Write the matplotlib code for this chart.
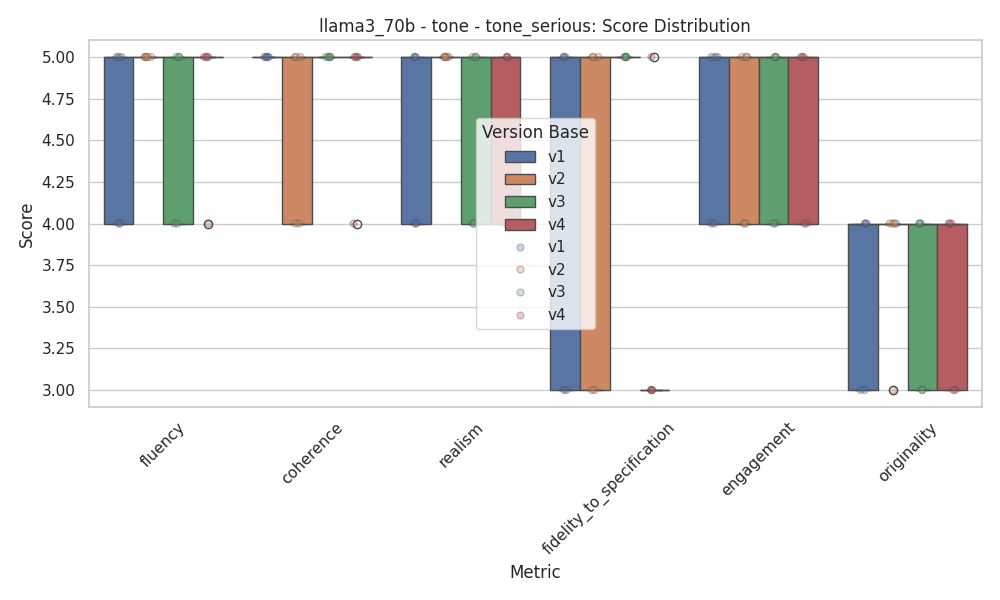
import numpy as np
import pandas as pd
import matplotlib
matplotlib.use('Agg')
import matplotlib.pyplot as plt
import seaborn as sns

# Scores per metric, per version (5 ratings each)
metrics = ['fluency', 'coherence', 'realism', 'fidelity_to_specification',
           'engagement', 'originality']
versions = ['v1', 'v2', 'v3', 'v4']

fluency_scores = {
    'v1': [4, 4, 5, 5, 5],
    'v2': [5, 5, 5, 5, 5],
    'v3': [4, 4, 5, 5, 5],
    'v4': [4, 5, 5, 5, 5],
}
coherence_scores = {
    'v1': [5, 5, 5, 5, 5],
    'v2': [4, 4, 5, 5, 5],
    'v3': [5, 5, 5, 5, 5],
    'v4': [4, 5, 5, 5, 5],
}
realism_scores = {
    'v1': [4, 4, 5, 5, 5],
    'v2': [5, 5, 5, 5, 5],
    'v3': [4, 4, 5, 5, 5],
    'v4': [4, 4, 5, 5, 5],
}
fidelity_scores = {
    'v1': [3, 3, 5, 5, 5],
    'v2': [3, 3, 5, 5, 5],
    'v3': [5, 5, 5, 5, 5],
    'v4': [3, 3, 3, 3, 5],
}
engagement_scores = {
    'v1': [4, 4, 5, 5, 5],
    'v2': [4, 4, 5, 5, 5],
    'v3': [4, 4, 5, 5, 5],
    'v4': [4, 4, 5, 5, 5],
}
originality_scores = {
    'v1': [3, 3, 4, 4, 4],
    'v2': [3, 4, 4, 4, 4],
    'v3': [3, 3, 4, 4, 4],
    'v4': [3, 3, 4, 4, 4],
}

all_scores = [fluency_scores, coherence_scores, realism_scores,
              fidelity_scores, engagement_scores, originality_scores]

rows = []
for metric, scores in zip(metrics, all_scores):
    for v in versions:
        for s in scores[v]:
            rows.append({'Metric': metric, 'Version Base': v, 'Score': s})
df = pd.DataFrame(rows)

sns.set_theme(style='whitegrid')
np.random.seed(3)

fig, ax = plt.subplots(figsize=(10, 6), dpi=100)
sns.boxplot(data=df, x='Metric', y='Score', hue='Version Base',
            order=metrics, hue_order=versions, ax=ax)
sns.stripplot(data=df, x='Metric', y='Score', hue='Version Base',
              order=metrics, hue_order=versions, dodge=True, alpha=0.3,
              jitter=True, linewidth=1, ax=ax)

ax.set_title('llama3_70b - tone - tone_serious: Score Distribution')
ax.set_xlabel('Metric')
ax.set_ylabel('Score')
plt.xticks(rotation=45)
ax.legend(title='Version Base', loc='center')
plt.tight_layout()
fig.savefig('out.png', dpi=100)
